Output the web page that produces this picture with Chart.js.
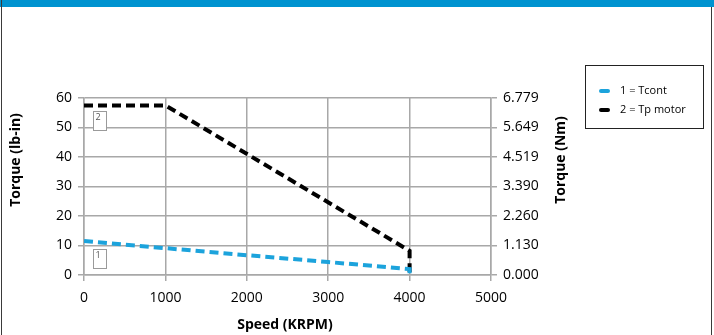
<!DOCTYPE html>
<html>
<head>
<meta charset="utf-8">
<script src="https://cdn.jsdelivr.net/npm/chart.js@4/dist/chart.umd.min.js"></script>
<style>
  html, body { margin: 0; padding: 0; background: #fff; }
  #frame { position: relative; width: 714px; height: 335px; overflow: hidden; }
  #topbar { position: absolute; left: 0; top: 0; width: 714px; height: 7px; background: #0093d0; }
  #edgeL { position: absolute; left: 1px; top: 0; width: 1px; height: 335px; background: #3a3a3a; }
  #edgeR { position: absolute; left: 711px; top: 7px; width: 1px; height: 328px; background: #3a3a3a; }
  canvas { position: absolute; left: 0; top: 0; }
</style>
</head>
<body>
<div id="frame">
  <canvas id="c" width="714" height="335"></canvas>
  <div id="topbar"></div>
  <div id="edgeL"></div>
  <div id="edgeR"></div>
</div>
<script>
// Speed in RPM, torque in lb-in
const seriesNames = ['1 = Tcont', '2 = Tp motor'];
const tcontSpeed  = [0, 1000, 2000, 3000, 4000, 4000];
const tcontTorque = [11.5, 9.1, 6.7, 4.4, 2.0, 0];
const tpSpeed     = [0, 1000, 4000, 4000];
const tpTorque    = [57.5, 57.5, 8.2, 0];
const nmTickLabels = ['0.000', '1.130', '2.260', '3.390', '4.519', '5.649', '6.779'];
const NM_MAX = 6.779;

const BLUE = '#1ca3dc';
const GRID = '#a8a8a8';
const FONT = '"Open Sans", "Noto Sans", sans-serif';

const pts = (xs, ys) => xs.map((x, i) => ({ x, y: ys[i] }));

// Small numbered tag boxes placed just under each curve
const tagPlugin = {
  id: 'tags',
  afterDatasetsDraw(chart, args, opts) {
    const ctx = chart.ctx;
    const xs = chart.scales.x, ys = chart.scales.y;
    chart.data.datasets.forEach((ds, i) => {
      const tag = opts.items[i];
      const px = xs.getPixelForValue(tag.at);
      const py = ys.getPixelForValue(tag.value);
      const w = 13, h = 19;
      const left = Math.round(px - w / 2) + 0.5;
      const top = Math.round(py + tag.gap) + 0.5;
      ctx.save();
      ctx.fillStyle = '#fff';
      ctx.strokeStyle = '#9a9a9a';
      ctx.lineWidth = 1;
      ctx.fillRect(left, top, w, h);
      ctx.strokeRect(left, top, w, h);
      ctx.fillStyle = '#555';
      ctx.font = '9px ' + FONT;
      ctx.textAlign = 'left';
      ctx.textBaseline = 'top';
      ctx.fillText(String(i + 1), left + 2, top + 1);
      ctx.restore();
    });
  }
};

// Axis titles and the boxed legend at the upper right
const decorPlugin = {
  id: 'decor',
  afterDraw(chart) {
    const ctx = chart.ctx;
    ctx.save();
    ctx.fillStyle = '#000';
    ctx.font = 'bold 14px ' + FONT;
    ctx.textAlign = 'center';
    ctx.textBaseline = 'middle';
    ctx.fillText('Speed (KRPM)', 285, 325);
    ctx.save();
    ctx.translate(16, 160);
    ctx.rotate(-Math.PI / 2);
    ctx.fillText('Torque (lb-in)', 0, 0);
    ctx.restore();
    ctx.save();
    ctx.translate(561, 160);
    ctx.rotate(-Math.PI / 2);
    ctx.fillText('Torque (Nm)', 0, 0);
    ctx.restore();

    // legend
    ctx.strokeStyle = '#222';
    ctx.lineWidth = 1;
    ctx.strokeRect(585.5, 65.5, 118, 63);
    ctx.font = '11px ' + FONT;
    ctx.textAlign = 'left';
    chart.data.datasets.forEach((ds, i) => {
      const y = 91 + i * 19;
      ctx.strokeStyle = ds.borderColor;
      ctx.lineWidth = 4;
      ctx.lineCap = 'round';
      ctx.beginPath();
      ctx.moveTo(601, y);
      ctx.lineTo(608, y);
      ctx.stroke();
      ctx.fillStyle = '#000';
      ctx.fillText(ds.label, 620, y);
    });
    ctx.restore();
  }
};

new Chart(document.getElementById('c'), {
  type: 'line',
  data: {
    datasets: [
      { label: seriesNames[0], data: pts(tcontSpeed, tcontTorque), borderColor: BLUE },
      { label: seriesNames[1], data: pts(tpSpeed, tpTorque), borderColor: '#000' }
    ].map(d => Object.assign(d, {
      borderWidth: 4, borderDash: [9, 5], pointRadius: 0, fill: false, tension: 0,
      borderCapStyle: 'butt', borderJoinStyle: 'miter'
    }))
  },
  options: {
    responsive: false,
    animation: false,
    layout: { padding: { left: 0, right: 0, top: 98, bottom: 0 } },
    plugins: {
      legend: { display: false },
      tooltip: { enabled: false },
      tags: { items: [ { at: 190, value: 11.0, gap: 6 }, { at: 190, value: 57.5, gap: 6 } ] }
    },
    scales: {
      x: {
        type: 'linear', min: 0, max: 5000,
        ticks: { stepSize: 1000, color: '#000', font: { family: FONT, size: 14 }, padding: 9, maxRotation: 0,
                 callback: v => String(v) },
        grid: { color: GRID, lineWidth: 1.5, tickLength: 6 },
        border: { color: GRID, width: 1.5 },
        afterFit(s) { s.height = 60; }
      },
      y: {
        position: 'left', min: 0, max: 60,
        ticks: { stepSize: 10, color: '#000', font: { family: FONT, size: 14 }, padding: 6 },
        grid: { color: GRID, lineWidth: 1.5, tickLength: 6 },
        border: { color: GRID, width: 1.5 },
        afterFit(s) { s.width = 84; }
      },
      y2: {
        position: 'right', min: 0, max: NM_MAX,
        afterBuildTicks(s) { s.ticks = nmTickLabels.map((t, i) => ({ value: i * NM_MAX / (nmTickLabels.length - 1) })); },
        ticks: { color: '#000', font: { family: FONT, size: 14 }, padding: 6,
                 callback: (v, i) => nmTickLabels[i] },
        grid: { drawOnChartArea: false, color: GRID, lineWidth: 1.5, tickLength: 6 },
        border: { color: GRID, width: 1.5 },
        afterFit(s) { s.width = 223; }
      }
    }
  },
  plugins: [tagPlugin, decorPlugin]
});
</script>
</body>
</html>
